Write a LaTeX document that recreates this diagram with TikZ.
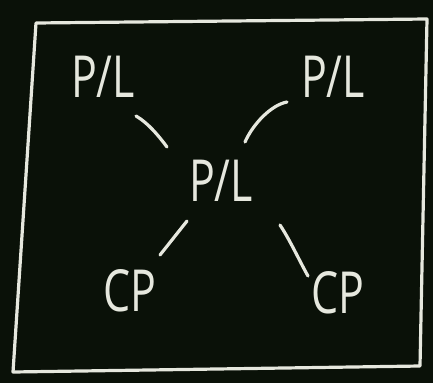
\documentclass[tikz,border=0pt]{standalone}
\usepackage{fontspec}
\setmainfont{Open Sans}
\definecolor{board}{HTML}{0A1108}
\definecolor{chalk}{HTML}{E6E8DE}
\begin{document}
\begin{tikzpicture}[x=1pt,y=-1pt,
  chalkline/.style={draw=chalk,line width=3.2pt,line cap=round,line join=round},
  label/.style={text=chalk,inner sep=0pt,font=\fontsize{58}{58}\selectfont,xscale=0.74}]
\fill[board] (0,0) rectangle (433,383);
\useasboundingbox (0,0) rectangle (433,383);
% frame
\coordinate (f1) at (36,23);
\coordinate (f2) at (427,19);
\coordinate (f3) at (420,366);
\coordinate (f4) at (13,372);
\draw[chalkline] (f1) -- (f2) -- (f3) -- (f4) -- cycle;
% labels
\node[label] (tl) at (103,77) {P/L};
\node[label] (tr) at (333,77) {P/L};
\node[label] (c) at (221,181) {P/L};
\node[label] (bl) at (130,291) {CP};
\node[label] (br) at (338,293) {CP};
% connector ends
\coordinate (a1) at (136,116);
\coordinate (a2) at (167,147);
\coordinate (b1) at (287,102);
\coordinate (b2) at (245,142);
\coordinate (d1) at (187,221);
\coordinate (d2) at (160,255);
\coordinate (e1) at (280,225);
\coordinate (e2) at (308,276);
\draw[chalkline] (a1) .. controls (148,123) and (158,135) .. (a2);
\draw[chalkline] (b1) .. controls (271,105) and (253,124) .. (b2);
\draw[chalkline] (d1) -- (d2);
\draw[chalkline] (e1) .. controls (290,240) and (300,262) .. (e2);
\end{tikzpicture}
\end{document}
